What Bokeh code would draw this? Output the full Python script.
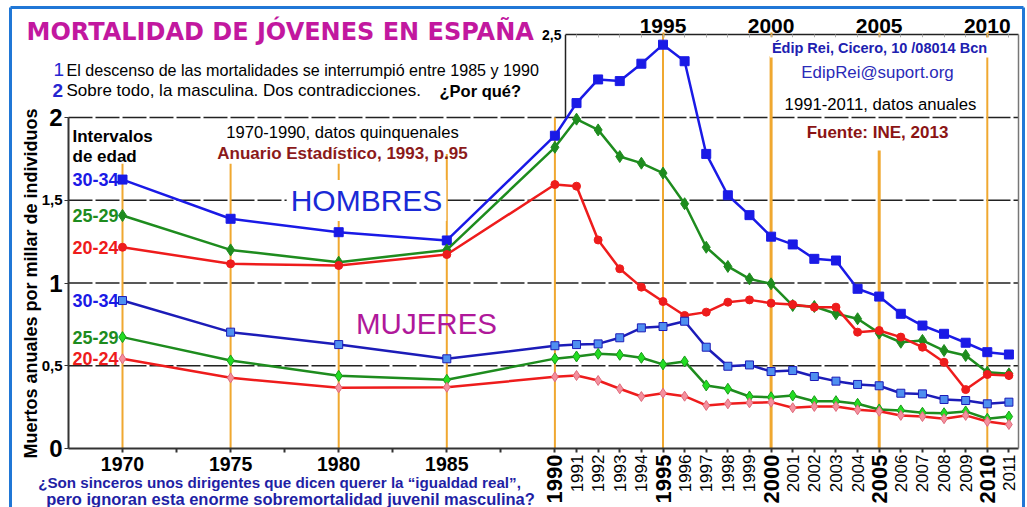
from bokeh.plotting import figure
from bokeh.models import (Range1d, Label, LabelSet, ColumnDataSource, FixedTicker,
                          LinearAxis, CustomJSTickFormatter)
from bokeh.embed import file_html
from bokeh.resources import INLINE
from bokeh.core.properties import value

# ---------------- data ----------------
years = [1970, 1975, 1980, 1985] + list(range(1990, 2012))
quinq_labels = [1970, 1975, 1980, 1985]
annual_labels = list(range(1990, 2012))

h_30_34 = [1.625, 1.388, 1.307, 1.257, 1.89, 2.087, 2.23, 2.22, 2.325, 2.44, 2.34, 1.78, 1.53, 1.41,
           1.28, 1.233, 1.146, 1.136, 0.965, 0.918, 0.814, 0.743, 0.693, 0.639, 0.582, 0.568]
h_25_29 = [1.408, 1.20, 1.126, 1.20, 1.82, 1.99, 1.925, 1.764, 1.724, 1.664, 1.479, 1.216, 1.10, 1.025,
           0.995, 0.864, 0.858, 0.814, 0.784, 0.697, 0.642, 0.653, 0.592, 0.562, 0.461, 0.451]
h_20_24 = [1.216, 1.116, 1.106, 1.172, 1.595, 1.585, 1.26, 1.086, 0.975, 0.888, 0.804, 0.824, 0.884, 0.898,
           0.878, 0.87, 0.854, 0.854, 0.703, 0.713, 0.673, 0.612, 0.521, 0.356, 0.447, 0.441]
m_30_34 = [0.894, 0.703, 0.628, 0.542, 0.621, 0.628, 0.632, 0.669, 0.729, 0.737, 0.769, 0.612, 0.497, 0.505,
           0.465, 0.471, 0.435, 0.407, 0.387, 0.379, 0.334, 0.33, 0.296, 0.29, 0.27, 0.28]
m_25_29 = [0.673, 0.532, 0.439, 0.415, 0.543, 0.556, 0.572, 0.566, 0.548, 0.508, 0.526, 0.381, 0.361, 0.314,
           0.31, 0.32, 0.286, 0.286, 0.27, 0.236, 0.23, 0.216, 0.213, 0.224, 0.18, 0.193]
m_20_24 = [0.542, 0.427, 0.367, 0.37, 0.433, 0.441, 0.411, 0.361, 0.314, 0.334, 0.316, 0.26, 0.27, 0.276,
           0.28, 0.246, 0.254, 0.254, 0.234, 0.225, 0.20, 0.193, 0.18, 0.20, 0.163, 0.145]

grid_levels = [0.5, 1.0, 1.5, 2.0]
y_tick_text = ["0", "0,5", "1", "1,5", "2"]
y_tick_vals = [0, 0.5, 1, 1.5, 2]
ref_years = [1970, 1975, 1980, 1985, 1990, 1995, 2000, 2005, 2010]
top_years = [1995, 2000, 2005, 2010]

# ---------------- layout helpers (pixel -> data) ----------------
PXY = 21.62      # px per year
PXV = 165.5      # px per unit
XL = 1970 - 122 / PXY
XR = XL + 1027 / PXY
YB = (448 - 507) / PXV
YT = 448 / PXV


def dx(px):
    return 1970 + (px - 122) / PXY


def dy(py):
    return (448 - py) / PXV


XA, XB = dx(68), dx(1018)     # plot-area edges
XBOX = dx(565)                 # left edge of upper-right panel

FONT = "Liberation Sans"

p = figure(width=1027, height=507, x_range=Range1d(XL, XR), y_range=Range1d(YB, YT),
           output_backend="svg", toolbar_location=None, x_axis_type=None, y_axis_type=None,
           min_border=0)
p.outline_line_color = None
p.grid.visible = False
p.background_fill_color = "white"
p.border_fill_color = "white"

blank = CustomJSTickFormatter(code="return ''")

xb = LinearAxis(fixed_location=0, bounds=(XA, XB),
                ticker=FixedTicker(ticks=[1970, 1972.5, 1975, 1977.5, 1980, 1982.5, 1985, 1987.5] + annual_labels,
                                   minor_ticks=[]),
                formatter=blank, major_tick_in=0, major_tick_out=4, axis_line_width=2,
                axis_line_color="#333333", major_tick_line_color="#333333", major_tick_line_width=2)
p.add_layout(xb, "below")

yl = LinearAxis(fixed_location=XA, ticker=FixedTicker(ticks=y_tick_vals, minor_ticks=[]), bounds=(0, 2),
                formatter=blank, major_tick_in=0, major_tick_out=4, axis_line_width=2,
                axis_line_color="#333333", major_tick_line_color="#333333")
p.add_layout(yl, "left")

xt = LinearAxis(fixed_location=2.5, ticker=FixedTicker(ticks=top_years, minor_ticks=list(range(1991, 2012))),
                bounds=(XBOX, XB), major_label_text_font_size="21px", major_label_text_font_style="bold",
                major_label_text_font=FONT, major_label_text_color="black",
                major_tick_out=2, major_tick_in=3, minor_tick_in=3, minor_tick_out=0,
                minor_tick_line_color="#aaaaaa", major_label_standoff=0, axis_line_width=1.5,
                axis_line_color="#222222", major_tick_line_color="#e8a020", major_tick_line_width=2)
p.add_layout(xt, "above")

yr = LinearAxis(fixed_location=XB, ticker=FixedTicker(ticks=[], minor_ticks=[]), bounds=(0, 2.5),
                formatter=blank, axis_line_color="#777777", axis_line_width=1.5)
p.add_layout(yr, "right")

# grid lines
p.segment(x0=[XA] * len(grid_levels), x1=[XB] * len(grid_levels), y0=grid_levels, y1=grid_levels,
          line_color="#222222", line_width=1.5, line_dash="24 3", level="underlay")
# left edge of upper panel
p.segment(x0=[XBOX], x1=[XBOX], y0=[2.0], y1=[2.5], line_color="#222222", line_width=1.5, level="underlay")

# outer blue frame
p.segment(x0=[dx(10), dx(10), dx(1023)], x1=[dx(1023), dx(10), dx(1023)],
          y0=[dy(7), dy(7), dy(7)], y1=[dy(7), dy(510), dy(510)],
          line_color="#2077d6", line_width=3, level="underlay")

# orange reference lines
orange_tops = [1.72, 1.72, 1.72, 1.78, 2.0, 2.5, 2.37, 1.80, 2.5]
orange_w = [2, 2, 2, 2, 2, 2, 3, 3, 2]
p.segment(x0=ref_years, x1=ref_years, y0=[0] * len(ref_years), y1=orange_tops,
          line_color="#f0a830", line_width=orange_w, level="underlay")

# ---------------- series ----------------
BLUE = "#1a1ae6"
NAVY = "#1c1cb8"
GREEN = "#1e8c1e"
RED = "#ee1c1c"

p.line(years, h_30_34, line_color=BLUE, line_width=2.5)
p.scatter(years, h_30_34, marker="square", size=9, fill_color=BLUE, line_color=BLUE)
p.line(years, h_25_29, line_color=GREEN, line_width=2.5)
p.scatter(years, h_25_29, marker="diamond", size=12, fill_color=GREEN, line_color=GREEN)
p.line(years, h_20_24, line_color=RED, line_width=2.5)
p.scatter(years, h_20_24, marker="circle", size=8, fill_color=RED, line_color=RED)

p.line(years, m_30_34, line_color=NAVY, line_width=2.5)
p.scatter(years, m_30_34, marker="square", size=8, fill_color="#4f8ff0", line_color=NAVY)
p.line(years, m_25_29, line_color=GREEN, line_width=2.5)
p.scatter(years, m_25_29, marker="diamond", size=11, fill_color="#22dd22", line_color="#1a9a1a")
p.line(years, m_20_24, line_color=RED, line_width=2.5)
p.scatter(years, m_20_24, marker="diamond", size=10, fill_color="#f4909e", line_color="#e06a7a")


# ---------------- texts ----------------
def lab(text, x, y, size, color="black", bold=False, align="left", baseline="middle", font=FONT,
        angle=0, bg=None, pad=0):
    kw = {}
    if bg is not None:
        kw = dict(background_fill_color=bg, padding=pad)
    p.add_layout(Label(x=x, y=y, text=text, text_font=font, text_font_size=f"{size}px",
                       text_font_style="bold" if bold else "normal", text_color=color,
                       text_align=align, text_baseline=baseline, angle=angle, angle_units="deg", **kw))


lab("MORTALIDAD DE JÓVENES EN ESPAÑA", dx(26), dy(31), 24, "#c2189f", True, font="DejaVu Sans")
lab("1", dx(53), dy(69), 19, "#2525d0")
lab("El descenso de las mortalidades se interrumpió entre 1985 y 1990", dx(66), dy(69), 16.1)
lab("2", dx(52), dy(90), 19, "#2525d0", True)
lab("Sobre todo, la masculina. Dos contradicciones.", dx(66), dy(90), 17)
lab("¿Por qué?", dx(439), dy(90), 16.5, bold=True)

lab("2,5", dx(561), dy(34), 14, bold=True, align="right")
for t, v in zip(y_tick_text, y_tick_vals):
    big = t in ("0", "1", "2")
    lab(t, dx(62), v, 24 if big else 15, bold=True, align="right")

lab("Muertos anuales por millar de individuos", dx(30), dy(283), 18, bold=True, align="center", angle=90)

lab("Intervalos", dx(72), dy(136), 17, bold=True)
lab("de edad", dx(72), dy(156), 17, bold=True)
ages = [("30-34", h_30_34[0], BLUE), ("25-29", h_25_29[0], GREEN), ("20-24", h_20_24[0], RED),
        ("30-34", m_30_34[0], BLUE), ("25-29", m_25_29[0], GREEN), ("20-24", m_20_24[0], RED)]
for t, v, c in ages:
    lab(t, dx(118), v, 18, c, True, align="right")

lab("1970-1990, datos quinquenales", dx(342), dy(132), 16.6, align="center")
lab("Anuario Estadístico, 1993, p.95", dx(342), dy(153), 17, "#8b1a1a", True, align="center")

lab("HOMBRES", dx(366), dy(200), 30, "#1a2ad6", align="center", bg="white", pad=4)
lab("MUJERES", dx(426), dy(323), 29.5, "#b0189a", align="center")

lab("Édip Rei, Cicero, 10 /08014 Bcn", dx(879), dy(47), 14.5, "#2020b0", True, align="center", bg="white", pad=2)
lab("EdipRei@suport.org", dx(877), dy(72), 16.9, "#2a2ab8", align="center")
lab("1991-2011, datos anuales", dx(880), dy(104), 16.7, align="center")
lab("Fuente: INE, 2013", dx(877), dy(132), 17, "#8b1414", True, align="center")

# bottom tick labels
for yv in quinq_labels:
    lab(str(yv), yv, dy(463), 19.5, bold=True, align="center")

major_a = [y for y in annual_labels if y % 5 == 0]
minor_a = [y for y in annual_labels if y % 5 != 0]
src_major = ColumnDataSource(dict(x=major_a, y=[dy(454)] * len(major_a), t=[str(v) for v in major_a]))
src_minor = ColumnDataSource(dict(x=minor_a, y=[dy(454)] * len(minor_a), t=[str(v) for v in minor_a]))
p.add_layout(LabelSet(x="x", y="y", text="t", source=src_major, angle=90, angle_units="deg",
                      text_align="right", text_baseline="middle", text_font=value(FONT),
                      text_font_size=value("22px"), text_font_style="bold", text_color="black"))
p.add_layout(LabelSet(x="x", y="y", text="t", source=src_minor, angle=90, angle_units="deg",
                      text_align="right", text_baseline="middle", text_font=value(FONT),
                      text_font_size=value("17px"), text_color="black"))

lab("¿Son sinceros unos dirigentes que dicen querer la “igualdad real”,", dx(279), dy(482), 15.2,
    "#1f1fa5", True, align="center")
lab("pero ignoran esta enorme sobremortalidad juvenil masculina?", dx(290), dy(498), 16.5,
    "#1f1fa5", True, align="center")

open("out.html", "w").write(file_html(p, INLINE))
